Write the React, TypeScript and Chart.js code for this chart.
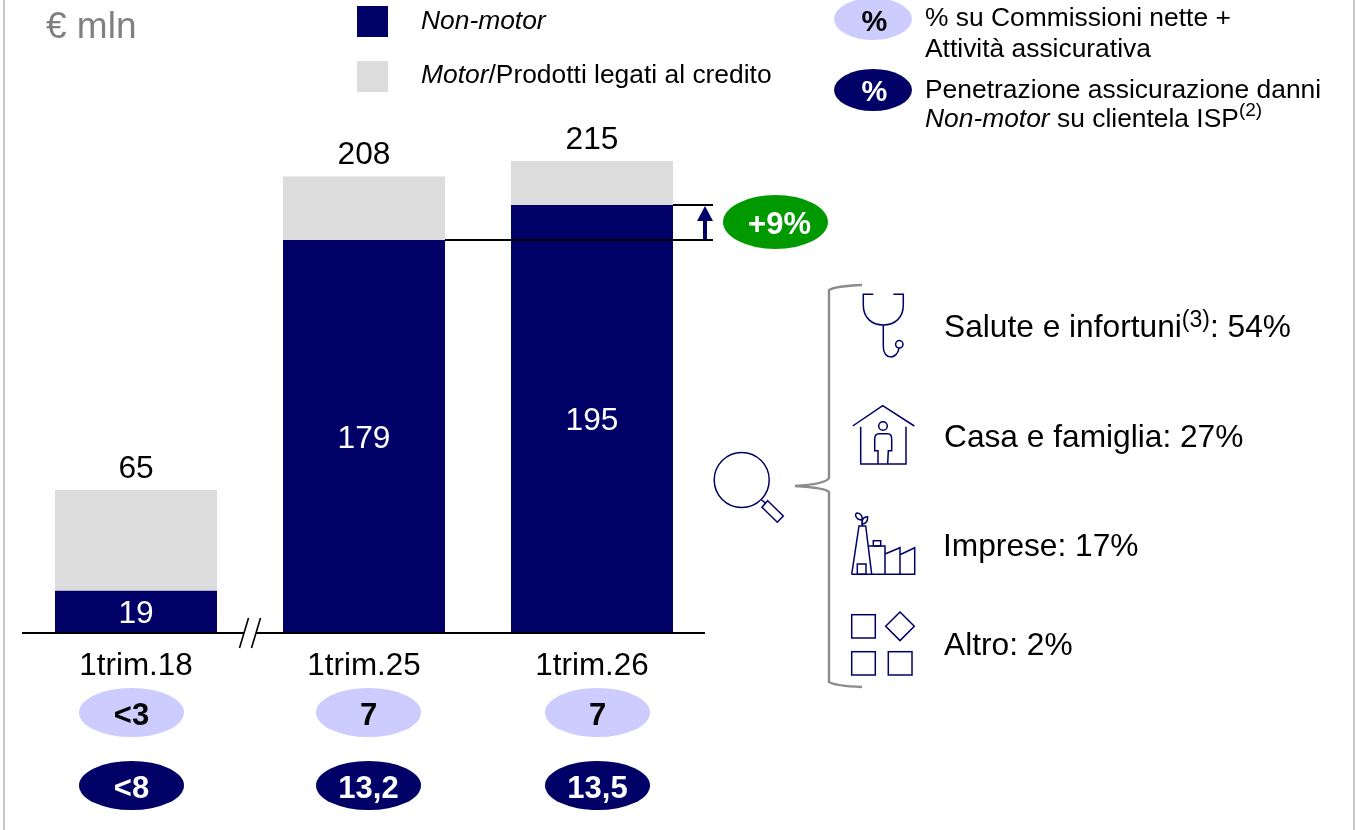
import React, { useEffect, useRef } from "react";
import { Chart, registerables } from "chart.js";

Chart.register(...registerables);

const categories = ["1trim.18", "1trim.25", "1trim.26"];
const nonMotor = [19, 179, 195];
const motorCredit = [46, 29, 20];
const totals = [65, 208, 215];
const commissionShare = ["<3", "7", "7"];
const penetration = ["<8", "13,2", "13,5"];
const growthLabel = "+9%";

const NAVY = "#000066";
const GREY = "#DCDCDC";
const LILAC = "#CCCCFF";
const FONT = '"Liberation Sans", Arial, sans-serif';

const annotations = {
  id: "annotations",
  afterDatasetsDraw(chart: any) {
    const { ctx, scales } = chart;
    const y = scales.y;
    const x = scales.x;
    const navyMeta = chart.getDatasetMeta(0);
    const greyMeta = chart.getDatasetMeta(1);
    ctx.save();
    ctx.textAlign = "center";
    ctx.textBaseline = "middle";
    ctx.font = `31.7px ${FONT}`;
    navyMeta.data.forEach((bar: any, i: number) => {
      ctx.fillStyle = "#fff";
      ctx.fillText(String(nonMotor[i]), bar.x, (bar.y + bar.base) / 2 + 3);
      ctx.fillStyle = "#000";
      ctx.fillText(String(totals[i]), greyMeta.data[i].x, y.getPixelForValue(totals[i]) - 21);
    });

    // growth bracket between the two latest Non-motor values
    const b1 = navyMeta.data[1];
    const b2 = navyMeta.data[2];
    const right = b2.x + b2.width / 2 + 40;
    const arrowX = b2.x + b2.width / 2 + 32;
    ctx.strokeStyle = "#000";
    ctx.lineWidth = 2;
    ctx.beginPath();
    ctx.moveTo(b1.x + b1.width / 2, Math.round(b1.y));
    ctx.lineTo(right, Math.round(b1.y));
    ctx.moveTo(b2.x + b2.width / 2, Math.round(b2.y));
    ctx.lineTo(right, Math.round(b2.y));
    ctx.stroke();
    ctx.fillStyle = NAVY;
    ctx.fillRect(arrowX - 2, b2.y + 14, 4, b1.y - b2.y - 15);
    ctx.beginPath();
    ctx.moveTo(arrowX, b2.y + 1);
    ctx.lineTo(arrowX + 8, b2.y + 16);
    ctx.lineTo(arrowX - 8, b2.y + 16);
    ctx.closePath();
    ctx.fill();

    // axis line with break
    const base = Math.round(y.getPixelForValue(0));
    ctx.strokeStyle = "#000";
    ctx.lineWidth = 2;
    ctx.beginPath();
    ctx.moveTo(x.left, base);
    ctx.lineTo(244, base);
    ctx.moveTo(256, base);
    ctx.lineTo(x.right - 1, base);
    ctx.stroke();
    ctx.lineWidth = 1.6;
    ctx.beginPath();
    ctx.moveTo(239.5, base + 15);
    ctx.lineTo(248.5, base - 15);
    ctx.moveTo(251.5, base + 15);
    ctx.lineTo(260.5, base - 15);
    ctx.stroke();
    ctx.restore();
  },
};

const Label = ({ x, y, size, children, style }: any) => (
  <div
    style={{
      position: "absolute",
      left: x,
      top: y,
      transform: "translateY(-50%)",
      fontSize: size,
      lineHeight: 1.2,
      whiteSpace: "nowrap",
      color: "#000",
      ...style,
    }}
  >
    {children}
  </div>
);

const Pill = ({ cx, cy, w, h, bg, color, size, dx = 0, children }: any) => (
  <div
    style={{
      position: "absolute",
      left: cx - w / 2,
      top: cy - h / 2,
      width: w,
      height: h,
      borderRadius: "50%",
      background: bg,
      color,
      fontSize: size,
      fontWeight: "bold",
      display: "flex",
      alignItems: "center",
      justifyContent: "center",
    }}
  >
    <span style={{ position: "relative", top: 2, left: dx }}>{children}</span>
  </div>
);

const Sup = ({ children, size, lift = "-0.6em" }: any) => (
  <span style={{ fontSize: size, position: "relative", top: lift }}>{children}</span>
);

const pillCenters = [131.5, 368.5, 597.5];

const Icons = () => (
  <svg
    width={1356}
    height={830}
    style={{ position: "absolute", left: 0, top: 0, pointerEvents: "none" }}
  >
    <path
      d="M862 285 Q836 286 829 290 V478 Q826 484 795 486 Q826 488 829 492 V682 Q836 686 862 687"
      fill="none"
      stroke="#8c8c8c"
      strokeWidth={2.4}
    />
    <g fill="none" stroke={NAVY} strokeWidth={1.5}>
      {/* stethoscope */}
      <path d="M873.3 294.3 H863.3 V305 C863.3 318 872 325 883.3 325 C894.6 325 903.3 318 903.3 305 V294.3 H893.3" />
      <path d="M883.3 325 V346.7 C883.3 360 897 360 899 348.3" />
      <circle cx={899.3} cy={344.3} r={3.7} />
      {/* house */}
      <path d="M852.7 426 L882.7 405.7 L914.3 426" />
      <path d="M860.7 426.7 V464 H906 V426.7" />
      <circle cx={883} cy={426} r={4.3} />
      <path d="M878 464 V450.7 H874.7 V439 Q874.7 433.7 879 433.7 H887.7 Q891.7 433.7 891.7 439 V450.7 H888.3 L887.7 464" />
      {/* magnifier */}
      <circle cx={741.7} cy={480} r={27.5} />
      <path d="M761.7 500 L765.7 503.3" />
      <path d="M767.7 500.7 L783.3 516 L777.3 522.3 L762 507.3 Z" />
      {/* factory */}
      <path d="M851.7 574.3 H914.7 V547.7 L900 554.7 M900 574.3 V547.7 L885 554 M885 574.3 V546 H868.3" />
      <path d="M851.7 574.3 L859 526 H865.7 L871.7 574.3" />
      <rect x={857.3} y={564} width={8.7} height={10.3} />
      <rect x={873.3} y={540.7} width={7.4} height={5.3} />
      <path d="M862.3 526 V518.3" />
      <path d="M862 520 C856 520 854 514 857 513 C861 513 863 517 862 520 Z" />
      <path d="M862 524 C862 518 864 517 867.6 516.7 C868 521 866 524 862 524 Z" />
      {/* other */}
      <rect x={851.7} y={614.7} width={23.6} height={23.3} />
      <path d="M900 612 L914.3 626.3 L900 640.6 L885.7 626.3 Z" />
      <rect x={851.7} y={651.7} width={23.6} height={23.3} />
      <rect x={888.3} y={651.7} width={23.7} height={23.3} />
    </g>
  </svg>
);

export default function App() {
  const ref = useRef<HTMLCanvasElement | null>(null);

  useEffect(() => {
    document.body.style.margin = "0";
    const chart = new Chart(ref.current as HTMLCanvasElement, {
      type: "bar",
      data: {
        labels: categories,
        datasets: [
          { label: "Non-motor", data: nonMotor, backgroundColor: NAVY },
          { label: "Motor/Prodotti legati al credito", data: motorCredit, backgroundColor: GREY },
        ],
      },
      options: {
        responsive: false,
        animation: false,
        devicePixelRatio: 1,
        categoryPercentage: 1,
        barPercentage: 0.7105,
        layout: { padding: { left: 22, right: 650, top: 18.5, bottom: 0 } },
        plugins: { legend: { display: false }, tooltip: { enabled: false }, title: { display: false } },
        scales: {
          x: {
            stacked: true,
            afterFit(scale: any) {
              scale.height = 197.5;
            },
            grid: { display: false, drawTicks: false },
            border: { display: false },
            ticks: {
              color: "#000",
              padding: 15,
              maxRotation: 0,
              font: { family: "Liberation Sans", size: 31.4 },
            },
          },
          y: { stacked: true, display: false, min: 0, max: 280 },
        },
      },
      plugins: [annotations],
    } as any);
    return () => chart.destroy();
  }, []);

  return (
    <div
      style={{
        position: "fixed",
        left: 0,
        top: 0,
        width: 1356,
        height: 830,
        overflow: "hidden",
        background: "#fff",
        fontFamily: FONT,
      }}
    >
      <canvas ref={ref} width={1356} height={830} style={{ display: "block", position: "absolute", left: 0, top: 0 }} />
      <div style={{ position: "absolute", left: 3, top: 0, width: 1.5, height: 830, background: "#c8c8c8" }} />
      <div style={{ position: "absolute", left: 1353, top: 0, width: 1.5, height: 830, background: "#c8c8c8" }} />

      <Label x={46} y={26} size={37} style={{ color: "#808080" }}>€ mln</Label>

      <div style={{ position: "absolute", left: 357, top: 6, width: 31, height: 31, background: NAVY }} />
      <div style={{ position: "absolute", left: 357, top: 61, width: 31, height: 31, background: GREY }} />
      <Label x={421} y={21} size={26.4}><i>Non-motor</i></Label>
      <Label x={421} y={75} size={26.4}><i>Motor</i>/Prodotti legati al credito</Label>

      <Pill cx={872.5} cy={19} w={78} h={42} bg={LILAC} color="#000" size={29} dx={2}>%</Pill>
      <Pill cx={872.5} cy={89.5} w={78} h={42} bg={NAVY} color="#fff" size={29} dx={2}>%</Pill>
      <Label x={925} y={18} size={26.4}>% su Commissioni nette +</Label>
      <Label x={925} y={49} size={26.4}>Attività assicurativa</Label>
      <Label x={925} y={90} size={26.4}>Penetrazione assicurazione danni</Label>
      <Label x={925} y={119} size={26.4}><i>Non-motor</i> su clientela ISP<Sup size={19}>(2)</Sup></Label>

      <Pill cx={775.5} cy={222} w={105} h={54} bg="#009900" color="#fff" size={31} dx={4}>{growthLabel}</Pill>

      {commissionShare.map((t, i) => (
        <Pill key={"c" + i} cx={pillCenters[i]} cy={712.5} w={105} h={49} bg={LILAC} color="#000" size={31}>{t}</Pill>
      ))}
      {penetration.map((t, i) => (
        <Pill key={"p" + i} cx={pillCenters[i]} cy={785.5} w={105} h={49} bg={NAVY} color="#fff" size={31}>{t}</Pill>
      ))}

      <Label x={944} y={326} size={31.7}>Salute e infortuni<Sup size={23} lift="-0.45em">(3)</Sup>: 54%</Label>
      <Label x={944} y={436} size={31.7}>Casa e famiglia: 27%</Label>
      <Label x={943} y={545} size={31.7}>Imprese: 17%</Label>
      <Label x={944} y={644} size={31.7}>Altro: 2%</Label>

      <Icons />
    </div>
  );
}
